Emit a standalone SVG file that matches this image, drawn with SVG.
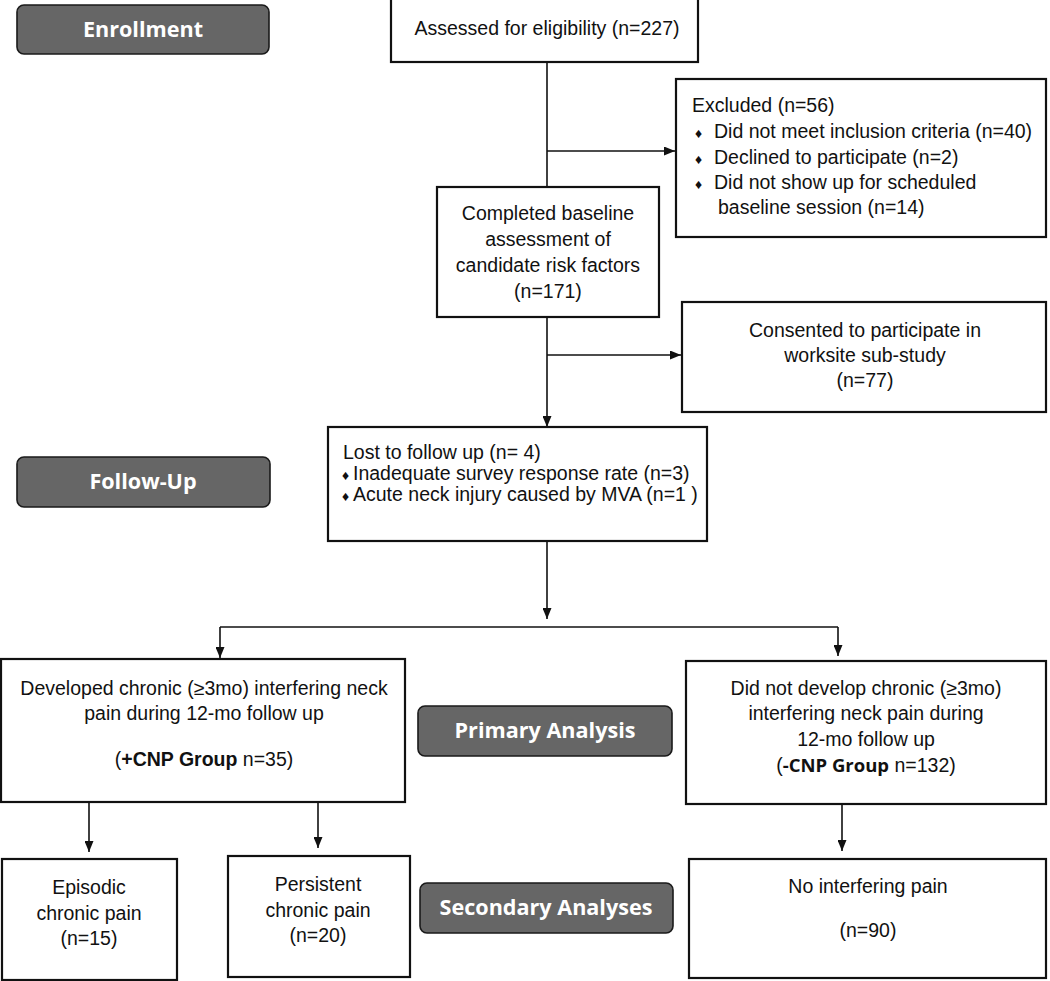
<svg xmlns="http://www.w3.org/2000/svg" width="1050" height="981" viewBox="0 0 1050 981">
<style>
.box{fill:#fff;stroke:#111;stroke-width:2.2}
.lab{fill:#666;stroke:#1a1a1a;stroke-width:1.6}
.t{font-family:"Liberation Sans",Arial,sans-serif;font-size:19.5px;fill:#111}
.c{text-anchor:middle}
.lt{font-family:"Open Sans","Liberation Sans",sans-serif;font-weight:bold;font-size:21.6px;fill:#fff;text-anchor:middle}
.b{font-weight:bold}
.d{font-size:14px}
.cn{stroke:#111;stroke-width:1.6;fill:none}
</style>
<defs>
<marker id="ah2" viewBox="0 0 10 10" refX="10" refY="5" markerWidth="11" markerHeight="9" markerUnits="userSpaceOnUse" orient="auto" preserveAspectRatio="none">
<path d="M0,0 L10,5 L0,10 z" fill="#111"/>
</marker>
</defs>

<g id="connectors">
<line class="cn" x1="547" y1="62" x2="547" y2="187"/>
<line class="cn" x1="547" y1="151" x2="675" y2="151" marker-end="url(#ah2)"/>
<line class="cn" x1="547" y1="318" x2="547" y2="427" marker-end="url(#ah2)"/>
<line class="cn" x1="547" y1="355" x2="681" y2="355" marker-end="url(#ah2)"/>
<line class="cn" x1="547" y1="541" x2="547" y2="619" marker-end="url(#ah2)"/>
<line class="cn" x1="220" y1="627" x2="838" y2="627"/>
<line class="cn" x1="220" y1="627" x2="220" y2="658" marker-end="url(#ah2)"/>
<line class="cn" x1="838" y1="627" x2="838" y2="656" marker-end="url(#ah2)"/>
<line class="cn" x1="89" y1="802" x2="89" y2="852" marker-end="url(#ah2)"/>
<line class="cn" x1="318" y1="802" x2="318" y2="848" marker-end="url(#ah2)"/>
<line class="cn" x1="842" y1="804" x2="842" y2="851" marker-end="url(#ah2)"/>
</g>

<g id="enrollment">
<rect class="lab" x="17" y="5" width="252" height="49" rx="7"/>
<text class="lt" x="143" y="37">Enrollment</text>
</g>

<g id="followup">
<rect class="lab" x="17" y="457" width="253" height="50" rx="7"/>
<text class="lt" x="143" y="489">Follow-Up</text>
</g>

<g id="primary">
<rect class="lab" x="418" y="706" width="254" height="50" rx="7"/>
<text class="lt" x="545" y="738">Primary Analysis</text>
</g>

<g id="secondary">
<rect class="lab" x="420" y="883" width="253" height="50" rx="7"/>
<text class="lt" x="546" y="915">Secondary Analyses</text>
</g>

<g id="assessed">
<rect class="box" x="391" y="-2" width="307" height="64"/>
<text class="t c" x="547" y="35">Assessed for eligibility (n=227)</text>
</g>

<g id="excluded">
<rect class="box" x="676" y="79" width="370" height="158"/>
<text class="t" x="692" y="112">Excluded (n=56)</text>
<text class="t" x="695" y="138"><tspan class="d">♦</tspan><tspan x="714">Did not meet inclusion criteria (n=40)</tspan></text>
<text class="t" x="695" y="164"><tspan class="d">♦</tspan><tspan x="714">Declined to participate (n=2)</tspan></text>
<text class="t" x="695" y="189"><tspan class="d">♦</tspan><tspan x="714">Did not show up for scheduled</tspan></text>
<text class="t" x="718" y="214">baseline session (n=14)</text>
</g>

<g id="completed">
<rect class="box" x="437" y="187" width="222" height="130"/>
<text class="t c" x="548" y="220">Completed baseline</text>
<text class="t c" x="548" y="246">assessment of</text>
<text class="t c" x="548" y="272">candidate risk factors</text>
<text class="t c" x="548" y="298">(n=171)</text>
</g>

<g id="consented">
<rect class="box" x="682" y="302" width="364" height="110"/>
<text class="t c" x="865" y="337">Consented to participate in</text>
<text class="t c" x="865" y="362">worksite sub-study</text>
<text class="t c" x="865" y="387">(n=77)</text>
</g>

<g id="lost">
<rect class="box" x="328" y="427" width="379" height="114"/>
<text class="t" x="343" y="459">Lost to follow up (n= 4)</text>
<text class="t" x="342" y="480"><tspan class="d">♦</tspan><tspan x="353">Inadequate survey response rate (n=3)</tspan></text>
<text class="t" x="342" y="501"><tspan class="d">♦</tspan><tspan x="353">Acute neck injury caused by MVA (n=1 )</tspan></text>
</g>

<g id="developed">
<rect class="box" x="1" y="659" width="404" height="143"/>
<text class="t c" x="204" y="695">Developed chronic (≥3mo) interfering neck</text>
<text class="t c" x="204" y="720">pain during 12-mo follow up</text>
<text class="t c" x="204" y="766">(<tspan class="b">+CNP Group</tspan> n=35)</text>
</g>

<g id="notdeveloped">
<rect class="box" x="686" y="661" width="360" height="143"/>
<text class="t c" x="866" y="695">Did not develop chronic (≥3mo)</text>
<text class="t c" x="866" y="720">interfering neck pain during</text>
<text class="t c" x="866" y="746">12-mo follow up</text>
<text class="t c" x="866" y="772">(<tspan class="b" font-family="'Open Sans','Liberation Sans',sans-serif" font-size="18.5">-CNP Group</tspan> n=132)</text>
</g>

<g id="episodic">
<rect class="box" x="2" y="859" width="175" height="121"/>
<text class="t c" x="89" y="894">Episodic</text>
<text class="t c" x="89" y="920">chronic pain</text>
<text class="t c" x="89" y="945">(n=15)</text>
</g>

<g id="persistent">
<rect class="box" x="228" y="856" width="182" height="121"/>
<text class="t c" x="318" y="891">Persistent</text>
<text class="t c" x="318" y="917">chronic pain</text>
<text class="t c" x="318" y="942">(n=20)</text>
</g>

<g id="nopain">
<rect class="box" x="689" y="859" width="357" height="119"/>
<text class="t c" x="868" y="893">No interfering pain</text>
<text class="t c" x="868" y="937">(n=90)</text>
</g>
</svg>
